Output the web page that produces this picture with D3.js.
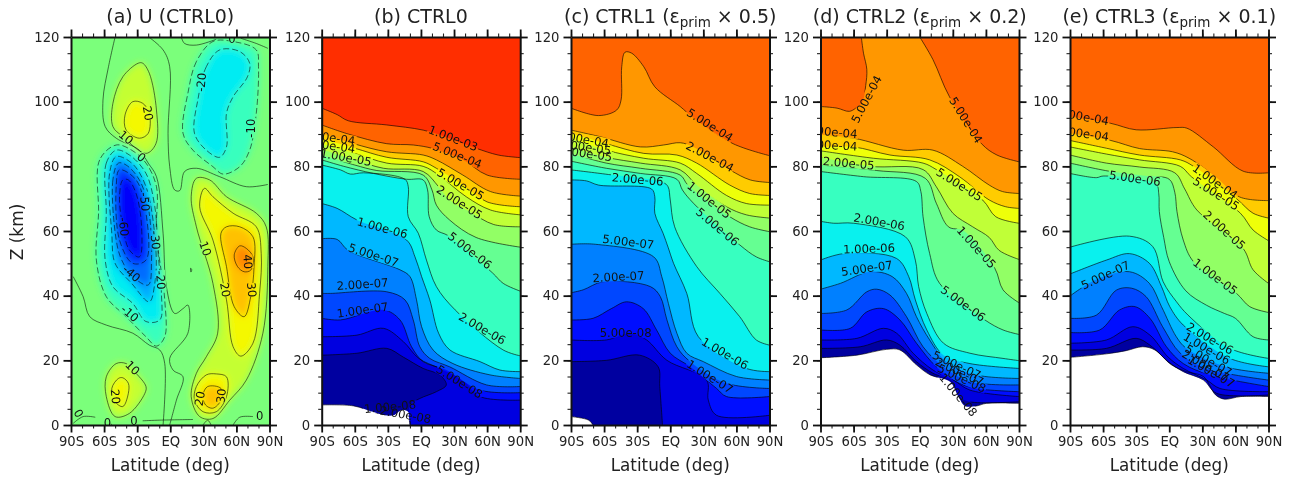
<!DOCTYPE html>
<html>
<head>
<meta charset="utf-8">
<script src="https://cdn.jsdelivr.net/npm/d3@7"></script>
<style>
  html, body { margin: 0; background: #fff; }
  text { font-family: "DejaVu Sans", sans-serif; }
  svg { filter: blur(0.4px); }
</style>
</head>
<body>
<script>
// Zonal-mean panels: wind (a) and log-level contours (b-e). Values as [lat, km].

const latTicks = [-90, -60, -30, 0, 30, 60, 90];
const latTickLabels = ["90S", "60S", "30S", "EQ", "30N", "60N", "90N"];
const zTicks = [0, 20, 40, 60, 80, 100, 120];
const logLevels = ["1.00e-08", "2.00e-08", "5.00e-08", "1.00e-07", "2.00e-07", "5.00e-07", "1.00e-06", "2.00e-06", "5.00e-06",
  "1.00e-05", "2.00e-05", "5.00e-05", "1.00e-04", "2.00e-04", "5.00e-04", "1.00e-03", "2.00e-03", "5.00e-03", "1.00e-02"];

// panel (a): wind contours, closed blobs then open zero lines
const windBlobs = [
  [-10, [[-49,86.6],[-64,82],[-65,65.5],[-67,51],[-58,39.7],[-40,33.5],[-22,27.3],[-12.5,24.4],[-5,27.3],[-5,38.7],[-12.5,59.3],[-12.5,73.7],[-22,81],[-35,85]]],
  [-20, [[-49,85],[-58,81],[-58,65.5],[-59,51],[-52,42.8],[-34,37.6],[-22,32],[-9.5,32.5],[-8,40.7],[-11,53],[-14,67.5],[-22,77.8],[-37,83.5]]],
  [-30, [[-49,83],[-55,77.8],[-53,59.3],[-50,50],[-35,43.8],[-19,38.1],[-14,43.8],[-13,54.1],[-22,73.7],[-35,81]]],
  [-40, [[-47,81],[-52,75.8],[-49,57.2],[-44,51],[-34,45.9],[-20,43.3],[-17,51],[-20,67.5],[-28,75.8],[-40,80.4]]],
  [-50, [[-46,78.9],[-49,73.7],[-46,57.2],[-34,50],[-22,51],[-22,65.5],[-31,75.8]]],
  [-60, [[-43,75.8],[-46,70.6],[-43,61.3],[-37,54.1],[-28,52],[-26,61.3],[-31,71.6],[-38,75.8]]],
  [-10, [[38.7,118.6],[23.7,112.4],[16,102.6],[11.6,90.2],[20.6,85],[38.7,79.9],[48,77.6],[63,79.9],[72,85],[78,96.4],[80,110.8],[78,116],[57,118.6]]],
  [-20, [[44.8,116],[32.7,110.8],[25,100.5],[22,90.2],[32.7,85],[44.8,82.8],[51,86],[51,96.4],[57,101.5],[70,107.7],[72,111.9],[63,115.5]]],
  [10, [[-29,111.9],[-43,107.7],[-52,99.5],[-52,92.3],[-43,89.2],[-22,84],[-13,87],[-12.5,97.4],[-19,108.8],[-25,111.9]]],
  [20, [[-34,100],[-41,95.9],[-40,91.2],[-28,88.7],[-20,90.2],[-19,96.4],[-25,99.5]]],
  [10, [[23.7,76.3],[19,70.6],[23.7,61.3],[38.7,43.8],[43,28.4],[32.7,21.1],[23.7,16],[19,8.8],[26.7,2.6],[38.7,2],[54,7.7],[69,13.9],[84,28.4],[88.5,49],[87,61.3],[78,65.5],[51,70.6],[35.7,75.8]]],
  [20, [[31,73.2],[26.7,67.5],[38.7,57.2],[51,38.7],[57,24.2],[64,21.3],[75,25.3],[81,40.7],[82.5,53],[78,61.3],[57,65.5],[38.7,70.6]]],
  [30, [[46,59.3],[51,49],[58,36.6],[67,33.5],[73,39.7],[76,49],[75,58.2],[63,61.3],[51,61.3]]],
  [40, [[63,55.4],[58,52.6],[61,49],[67,47.4],[73,47.9],[75,52],[69,54.6]]],
  [20, [[32.7,15.5],[23.7,11.9],[22,7.7],[29.7,4.1],[41.7,4.1],[51,8.8],[51,14.9],[41.7,15.8]]],
  [30, [[34,11.9],[29.7,9.3],[32,6.2],[38.7,5.2],[46,7.7],[46,11.3]]],
  [10, [[-49,19],[-58,14.9],[-58,8.8],[-50,2.6],[-37,3.6],[-23,9.8],[-22,11.9],[-31,16],[-40,19]]],
  [20, [[-47,14.4],[-53,11.3],[-50,7.2],[-43,5.7],[-38,9.8],[-38,12.9],[-43,14.6]]],
  [0, [[18.5,48.5],[19.5,48],[18.7,47.3]]]
];
const windZeroLines = [
  [[-50,120],[-56,110.8],[-61,100.5],[-59,92.3],[-49,88.7],[-28,85],[-20,81],[-12.5,76.8],[-6.5,59.3],[-3.5,42.8],[4,34.5],[11.6,36],[16,37.1],[16,28.4],[-0.5,20.6],[2.5,17],[11.6,14.9],[5.6,7.7],[-0.5,0]],
  [[-88,45.9],[-79,39.7],[-73,33.5],[-58,30.9],[-34,28.4],[-19,24.7],[-9.5,23.2],[-5,19],[-6.5,0]],
  [[-19.5,120],[-6.5,116],[-0.5,110.8],[-2,90.2],[-0.5,79.9],[4,72.7],[8.6,72.5],[13,78.4],[23.7,79.4],[44.8,76.8],[69,73.7],[88.5,74.4]],
  [[10,120],[13,118],[23.7,117.5],[41.7,119.3]],
  [[64,119.6],[78,118],[88.5,116.5]],
  [[-25,1.3],[-9.5,1.5],[20.6,1.7]],
  [[-88,0.5],[-79,2.6],[-68,2.4]],
  [[-59,0],[-56,1],[-53,0]],
  [[-35,0],[-33,2],[-31,0]],
  [[29.7,0],[34,1.5],[37,0]],
  [[57,0],[63,2.4],[75,2.6]]
];
const windLabels = [
  ["20",-20,96.4,80],["10",-40,89,40],["0",-26,82.8,40],["-50",-23,69,85],["-60",-42,61.3,85],["-30",-13.4,57.2,85],
  ["-40",-35,46.9,40],["-20",-8.6,44.8,85],["-10",-36.6,34.5,40],["10",-34,17.7,45],["20",-49.6,8.8,85],["0",-83,3.6,60],
  ["0",-57,0.7,0],["0",-33,1.2,0],["-20",28,106,-85],["-10",73.4,91.8,-90],["10",32,54.6,70],["20",50,41.8,80],
  ["30",74,41.8,85],["40",70.5,50.5,85],["20",26.7,8.2,-80],["30",46,9,-85],["0",81,2.8,0],["0",56,119.3,0]
];

// panel (b) CTRL0
const ctrl0Contours = [
  ["1.00e-08", [[-90,6.2],[-61,5.9],[-43,4],[-32.6,3],[-25,3],[-17.5,4.6],[-11.5,4],[-9.5,0]]],
  ["2.00e-08", [[-90,21.6],[-58,22.2],[-31,23.7],[-16,21],[2,17.5],[17,15.5],[23,12.4],[14,10.3],[-1,8.2],[-10,6.2],[-10,0]]],
  ["5.00e-08", [[-90,27.3],[-58,27.8],[-34,29.9],[-16,25.8],[-2,20.6],[17,17.5],[38,13.9],[53.5,8.8],[90,7.7]]],
  ["1.00e-07", [[-90,33],[-73,32.5],[-34,35.6],[-19,32.5],[-8.5,24.2],[2,19.6],[23,17],[53.5,10.8],[90,10]]],
  ["2.00e-07", [[-90,40.7],[-82,40.7],[-31,41.2],[-14.5,38.7],[-7,32.5],[-1,24.2],[8,20.6],[26,18],[59.5,12.4],[90,11.9]]],
  ["5.00e-07", [[-90,57.6],[-76,57.4],[-66,54],[-19,48],[-10,45.9],[-4,38.7],[0.6,30.4],[11,23.2],[29,19],[62.6,15.5],[90,14.4]]],
  ["1.00e-06", [[-90,68.5],[-76,67],[-58,63.4],[-13,57.2],[-5.4,52],[0.6,45.9],[8,38.7],[16,28.4],[26.3,23.2],[53.5,19.6],[71.6,17],[90,16.5]]],
  ["2.00e-06", [[-90,80.4],[-73,78.9],[-64,77.6],[-52,78],[-14.5,76],[-11.5,73.7],[-11.5,64.4],[-2.4,59.3],[5,51],[14,42.8],[31,35.6],[74.6,23.2],[90,21.4]]],
  ["5.00e-06", [[-90,82],[-70,80],[-43,77.8],[-13,76],[2,75.8],[6,72.7],[7.5,64.4],[14,60.3],[25,58.5],[65,47],[74.6,43.8],[90,41.4]]],
  ["1.00e-05", [[-90,83.5],[-60,80.4],[-40,78.7],[2,77.3],[10,72.7],[14,68],[26,63.4],[50,58],[90,55]]],
  ["2.00e-05", [[-90,85.3],[-60,82],[-34,79.4],[2,78.4],[16,73.7],[26,69.6],[44,66],[66,62],[90,61.3]]],
  ["5.00e-05", [[-90,87],[-60,84],[-31,81],[2,80],[16,77.3],[41,70.6],[63,66.5],[90,65]]],
  ["1.00e-04", [[-90,88.5],[-60,85.6],[-31,82.8],[2,81.4],[14,79.4],[38,74.2],[60,69],[90,67.5]]],
  ["2.00e-04", [[-90,90.2],[-61,87],[-31,84.5],[2,83.5],[14,82],[38,77.3],[63,72.2],[90,70.8]]],
  ["5.00e-04", [[-90,92.8],[-66,90],[-31,87],[-7,86.6],[11,85.5],[38,82],[60,77.3],[90,76]]],
  ["1.00e-03", [[-90,98],[-76,96],[-66,94.1],[-31,92.8],[2,91.2],[23,89],[50,85.6],[70,83.5],[90,82.7]]]
];
const ctrl0Labels = [
  ["1.00e-03",29.3,88.7,21],["5.00e-04",33,83.5,22],["5.00e-05",36,74.5,30],["2.00e-05",35,68.9,33],["5.00e-06",44.4,54,38],
  ["2.00e-06",55.6,29.9,30],["1.00e-06",-35,61,15],["5.00e-07",-43,52.6,18],["2.00e-07",-53,43.6,-4],["1.00e-07",-53,35.6,-8],
  ["5.00e-08",35,13.4,32],["1.00e-08",-28,5.7,-5],["2.00e-08",-14,3.2,10],["2.00e-04",-83,89,8],["1.00e-04",-83,86.5,8],["1.00e-05",-68,82.8,10]
];

// panel (c) CTRL1
const ctrl1Contours = [
  ["1.00e-08", [[-90,2.6],[-74,1.5],[-70,0]]],
  ["2.00e-08", [[-90,19.6],[-58,20],[-27.7,21.6],[-11,18],[-9.5,11.9],[-7,0]]],
  ["5.00e-08", [[-90,26.3],[-58,26.3],[-36,28.4],[-21.4,26.3],[-3,20],[33,13.9],[34.5,7.7],[42,3],[90,3]]],
  ["1.00e-07", [[-90,32.5],[-70,33],[-53.4,36],[-39.6,38.1],[-24.5,36],[-12.4,29.4],[0,22.2],[18,18],[42,11.3],[51,8.8],[90,8.8]]],
  ["2.00e-07", [[-90,40.9],[-79,41.8],[-61,44.3],[-18,42.8],[-9,39.7],[-3,32.5],[6,24.2],[18,19.6],[51,12.9],[90,11.3]]],
  ["5.00e-07", [[-90,55.9],[-68,55.9],[-15,52],[-7.7,45.9],[-1.7,37.6],[6,28.4],[15,22.2],[30,19.6],[60,15],[90,13.9]]],
  ["1.00e-06", [[-90,75.8],[-76,75.5],[-65,74.2],[-17,73],[-14,70.6],[-14,65.5],[-6.5,59.3],[-2,55],[3,50],[15,40.7],[25.5,27.3],[69,17.5],[90,16.5]]],
  ["2.00e-06", [[-90,78.9],[-59,77.6],[-6.5,75],[-2,73.7],[0,69.6],[4,61.3],[24,49],[45,40.7],[63,33.5],[78,26.3],[90,24.7]]],
  ["5.00e-06", [[-90,81.6],[-58,79.4],[-27,77.8],[6,76],[11,72.7],[21,68.6],[63,55.7],[78,52],[90,50.5]]],
  ["1.00e-05", [[-90,84],[-58,81],[-27,79.4],[9,77.3],[16,74.2],[54,64.4],[72,61.3],[90,59.8]]],
  ["2.00e-05", [[-90,86],[-58,82.8],[-27,81],[9,78.9],[24,74.2],[51,67.5],[69,65],[90,64]]],
  ["5.00e-05", [[-90,88.7],[-58,85],[-24,82.5],[9,81],[24,77.8],[51,71],[69,68.5],[90,68]]],
  ["1.00e-04", [[-90,90.2],[-58,87],[-24,84],[6,83.5],[24,81],[54,74.2],[72,71.6],[90,71]]],
  ["2.00e-04", [[-90,91.2],[-64,89.2],[-27,86],[-6,86.6],[9,87.3],[21,86],[54,78.9],[72.5,75.8],[90,75]]],
  ["5.00e-04", [[-90,98],[-65,95.7],[-48.6,97.4],[-44.6,100.5],[-44,110.8],[-41,115.3],[-35,115],[-24,110.8],[-14,104.6],[9,98.5],[21,95],[57,87],[90,83.3]]]
];
const ctrl1Labels = [
  ["5.00e-04",36,92.8,32],["2.00e-04",36,83,28],["1.00e-05",35.4,69.6,38],["5.00e-06",43,61.3,40],["1.00e-06",49.6,22.2,30],
  ["1.00e-07",36,15,32],["2.00e-06",-29.6,76,5],["5.00e-07",-38,56.7,7],["2.00e-07",-47,45.9,-3],["5.00e-08",-40.5,28.4,0],
  ["2.00e-04",-79,88.5,10],["5.00e-05",-77,86,8],["2.00e-05",-76,84,8]
];

// panel (d) CTRL2
const ctrl2Contours = [
  ["1.00e-08", [[-90,20.8],[-57,21.6],[-30,23.4],[-18,23.2],[-3,18.6],[9.4,15.5],[27.5,13.4],[35,8.8],[41,5.9],[51.5,5.9],[60.5,6.7],[90,6.7]]],
  ["2.00e-08", [[-90,23.7],[-54,24.2],[-30,26.3],[-18,24.7],[-3,19.6],[12,16],[30,13.4],[36,8.8],[45,7.2],[90,7.2]]],
  ["5.00e-08", [[-90,26.3],[-57,26.8],[-33,29.9],[-21,28.4],[-6,22.2],[12,17],[30.5,13.9],[45.5,10.8],[90,8.8]]],
  ["1.00e-07", [[-90,29.4],[-63,29.9],[-48,35],[-33,36],[-18,32.5],[-3,25.3],[15,18],[36,12.9],[51,11.3],[90,10.3]]],
  ["2.00e-07", [[-90,34.5],[-66,35.6],[-48,41.2],[-39,42],[-27,40.2],[-12,33.5],[3,24.2],[21.5,18],[45.5,13.4],[90,12.4]]],
  ["5.00e-07", [[-90,42],[-72,43.8],[-45,47.4],[-25,45.9],[-12,40.7],[-3,33.5],[9,26.3],[24,19.6],[51,15.5],[90,14.4]]],
  ["1.00e-06", [[-90,51],[-69,53],[-21,51.5],[-10,45.9],[-4,38.7],[6.4,29.4],[21.5,21.6],[45.5,19],[90,17.5]]],
  ["2.00e-06", [[-90,63],[-78,62.4],[-60,62.4],[-13,58.2],[-4,51],[-1,42.8],[6.4,34.5],[21.5,25.3],[45.5,22.2],[75.5,20.6],[90,19.9]]],
  ["5.00e-06", [[-90,78.4],[-51,76.8],[-3,75.3],[1,72.2],[3,64.4],[9,53],[18,43.8],[59,32.5],[75.5,29.4],[90,28]]],
  ["1.00e-05", [[-90,80.4],[-39,78.7],[5,76.3],[15,68.6],[26,61.3],[40,60],[68,48.5],[75.5,41.8],[90,37.8]]],
  ["2.00e-05", [[-90,82.8],[-45,80],[3,79],[15,73.7],[30,65.5],[48,61.3],[63,58],[72,54],[90,51.2]]],
  ["5.00e-05", [[-90,84.8],[-42,82.5],[3,81],[15,79],[57,69.6],[69,64.4],[90,62.4]]],
  ["1.00e-04", [[-90,86],[-60,86],[-27,83.5],[9,82],[36,76.8],[63,69.6],[78,67.5],[90,67]]],
  ["2.00e-04", [[-90,89.7],[-60,88.7],[-15,85],[12,85],[39,80],[63,74.2],[75,72.2],[90,71.6]]],
  ["5.00e-04", [[-90,98.5],[-75,98],[-64,97],[-58,98],[-52,100],[-49,105],[-48,110],[-51,115],[-53,120]]],
  ["5.00e-04", [[0,120],[12,113],[27,101.5],[56,87],[70,83.5],[90,81.4]]]
];
const ctrl2Labels = [
  ["5.00e-04",-48.4,100.8,-62],["5.00e-04",42,94.3,58],["5.00e-05",36,74.4,32],["1.00e-05",51.5,55,48],["5.00e-06",39.5,37.6,36],
  ["2.00e-06",-36.7,62.9,10],["1.00e-06",-46,54.6,-2],["5.00e-07",-48,48.5,-8],["2.00e-05",-64.4,81,5],["2.00e-04",-80,90.7,5],
  ["1.00e-04",-80,86.6,3],["5.00e-07",33.5,18.6,25],["2.00e-07",36,16.5,25],["5.00e-08",38,14.5,25],["1.00e-08",35,9.3,50]
];

// panel (e) CTRL3
const ctrl3Contours = [
  ["1.00e-08", [[-90,20.9],[-57,22],[-39,23],[-24,24.2],[-13,23.2],[2,18.6],[15.5,16.5],[31,15],[42,9.3],[50,8],[65,8.8],[90,8.8]]],
  ["2.00e-08", [[-90,23.2],[-57,23.7],[-30,26.8],[-17.5,24.7],[-1,19.6],[12.7,16.5],[31,13.9],[43,9.8],[90,9.3]]],
  ["5.00e-08", [[-90,25.3],[-57,26.3],[-33,30.4],[-17.5,27.8],[-1,21],[12.7,17.5],[34,13.9],[46,11.3],[90,10.3]]],
  ["1.00e-07", [[-90,28.6],[-63,29.4],[-45,35.6],[-31,36.6],[-17.5,33],[-2.5,24.2],[12.7,19],[37,15.5],[90,11.9]]],
  ["2.00e-07", [[-90,33],[-66,34],[-48,41.7],[-34,42.3],[-21,39.7],[-6,30.4],[10,22.2],[34,17.5],[90,13.9]]],
  ["5.00e-07", [[-90,39.9],[-66,45],[-36,47.4],[-18,43.8],[-7,36.6],[6.4,27.3],[15.5,23.7],[51,18],[90,16]]],
  ["1.00e-06", [[-90,46.7],[-57,51],[-36,53],[-18,50],[-7,42.8],[0.5,36.6],[12.7,30.9],[55,20.6],[90,18]]],
  ["2.00e-06", [[-90,55],[-36,58.4],[-15,55.2],[-5.5,44.3],[6.6,38.1],[17,34],[55,23.7],[90,20.6]]],
  ["5.00e-06", [[-90,77.8],[-66,76.5],[-60,77],[-12,74.5],[-9.5,71.5],[-9,66],[-5,58],[0,50.5],[15,41.5],[34,37],[50,34.5],[60,33],[76,27.3],[90,26.3]]],
  ["1.00e-05", [[-90,81],[-53,78.4],[-20,77],[0,76],[5,72],[7,66],[12.7,57.2],[22,50.5],[61,40.7],[73,36.6],[90,34.8]]],
  ["2.00e-05", [[-90,83.5],[-57,81],[-27,79.8],[5,78],[14,73],[25,66.5],[67,54.6],[76,48],[90,43.8]]],
  ["5.00e-05", [[-90,86],[-57,83.8],[-27,82],[10,80],[20,76.8],[64.5,65.5],[76,60.3],[90,57]]],
  ["1.00e-04", [[-90,88],[-57,85.6],[-27,83.5],[10,82],[22,80],[61,70],[76,65.5],[90,64]]],
  ["2.00e-04", [[-90,90.2],[-53,88],[-27,85.5],[3,84.5],[18,82.5],[43,76.5],[64,70.5],[90,69.4]]],
  ["5.00e-04", [[-90,95.4],[-53,93.3],[-30,91.3],[7,92],[16,91.8],[40,86],[67,78.5],[90,78]]]
];
const ctrl3Labels = [
  ["5.00e-04",-78,95.4,10],["2.00e-04",-78,90.2,8],["1.00e-04",41.7,75.3,35],["5.00e-05",42.6,71.6,32],["2.00e-05",50,60.3,42],
  ["1.00e-05",41.8,45.9,37],["5.00e-06",-31,76.3,8],["5.00e-07",-58,46.4,-25],["2.00e-06",37,26.8,30],["1.00e-06",34,23.7,30],
  ["5.00e-07",35.7,20,30],["2.00e-07",33,18.4,30],["1.00e-07",38,16.5,30]
];

const panelLefts = [71, 321.7, 571, 820.5, 1070];
const plotW = 198.5;
const plotTop = 37;
const plotH = 388;
const svg = d3.select("body").append("svg").attr("width", 1297).attr("height", 480).style("display", "block");
const defs = svg.append("defs");
defs.append("filter").attr("id", "soft").attr("x", "-10%").attr("y", "-10%").attr("width", "120%").attr("height", "120%")
  .append("feGaussianBlur").attr("stdDeviation", 3.8);

// jet, same knots as matplotlib
const jetR = d3.scaleLinear().domain([0, 0.35, 0.66, 0.89, 1]).range([0, 0, 1, 1, 0.5]).clamp(true);
const jetG = d3.scaleLinear().domain([0, 0.125, 0.375, 0.64, 0.91, 1]).range([0, 0, 1, 1, 0, 0]).clamp(true);
const jetB = d3.scaleLinear().domain([0, 0.11, 0.34, 0.65, 1]).range([0.5, 1, 1, 0, 0]).clamp(true);
const jet = (t) => d3.rgb(jetR(t) * 255, jetG(t) * 255, jetB(t) * 255).formatRgb();
const windColor = d3.scaleLinear().domain([-80, 0, 85]).range([0, 0.5, 1]);

function drawPanel(i, drawMarks, labels, title) {
  const left = panelLefts[i];
  const x = d3.scaleLinear().domain([-90, 90]).range([0, plotW]);
  const y = d3.scaleLinear().domain([0, 120]).range([plotH, 0]);
  const g = svg.append("g").attr("transform", `translate(${left},${plotTop})`);
  const id = "p" + i;

  defs.append("clipPath").attr("id", id + "clip").append("rect").attr("width", plotW).attr("height", plotH);

  const labelSize = 11.6;
  const labelXY = (d) => `translate(${x(d[1])},${y(d[2])}) rotate(${d[3]})`;

  // the lines break under their labels, like clabel does
  const mask = defs.append("mask").attr("id", id + "mask").attr("maskUnits", "userSpaceOnUse")
    .attr("x", -5).attr("y", -5).attr("width", plotW + 10).attr("height", plotH + 10);
  mask.append("rect").attr("x", -5).attr("y", -5).attr("width", plotW + 10).attr("height", plotH + 10).attr("fill", "#fff");
  mask.selectAll("rect.gap").data(labels).enter().append("rect").attr("class", "gap")
    .attr("x", (d) => -d[0].length * labelSize * 0.29)
    .attr("y", -5)
    .attr("width", (d) => d[0].length * labelSize * 0.58)
    .attr("height", 10)
    .attr("transform", labelXY)
    .attr("fill", "#000");

  const plot = g.append("g").attr("clip-path", `url(#${id}clip)`);
  drawMarks(plot, x, y, `url(#${id}mask)`);

  plot.selectAll("text.clabel").data(labels).enter().append("text")
    .attr("class", "clabel")
    .attr("transform", labelXY)
    .attr("text-anchor", "middle")
    .attr("dy", "0.36em")
    .attr("font-size", labelSize)
    .attr("fill", "#111")
    .text((d) => d[0]);

  // four spines, majors outward, minors shorter
  const axes = [
    [d3.axisBottom(x), `translate(0,${plotH})`, true, d3.range(-90, 91, 10), latTicks],
    [d3.axisTop(x), "", false, d3.range(-90, 91, 10), latTicks],
    [d3.axisLeft(y), "", true, d3.range(0, 121, 5), zTicks],
    [d3.axisRight(y), `translate(${plotW},0)`, false, d3.range(0, 121, 5), zTicks]
  ];
  axes.forEach(([axis, tf, labelled, minor, major], k) => {
    g.append("g").attr("transform", tf)
      .call(axis.tickValues(minor).tickSize(3.5).tickSizeOuter(0).tickFormat(""))
      .call((s) => s.select(".domain").remove())
      .call((s) => s.selectAll("line").attr("stroke", "#222").attr("stroke-width", 1.1));
    const fmt = !labelled ? () => "" : k === 0 ? (d) => latTickLabels[latTicks.indexOf(d)] : (d) => d;
    const majorG = g.append("g").attr("transform", tf)
      .call(axis.tickValues(major).tickSize(7.5).tickSizeOuter(0).tickPadding(4).tickFormat(fmt));
    majorG.select(".domain").attr("stroke", "#111").attr("stroke-width", 2);
    majorG.selectAll("line").attr("stroke", "#111").attr("stroke-width", 1.8);
    majorG.selectAll("text").attr("font-family", "DejaVu Sans").attr("font-size", 13.2).attr("fill", "#222");
  });

  g.append("text").attr("x", plotW / 2).attr("y", plotH + 46).attr("text-anchor", "middle")
    .attr("font-size", 16.8).attr("fill", "#222").text("Latitude (deg)");

  const t = g.append("text").attr("x", plotW / 2).attr("y", -14.5).attr("text-anchor", "middle")
    .attr("font-size", 19).attr("fill", "#222");
  t.append("tspan").text(title[0]);
  if (title[1]) {
    t.append("tspan").attr("dy", 4).attr("font-size", 13.5).text(title[1]);
    t.append("tspan").attr("dy", -4).text(title[2]);
  }
  return g;
}

function windMarks(plot, x, y, maskUrl) {
  const closed = d3.line().x((d) => x(d[0])).y((d) => y(d[1])).curve(d3.curveCatmullRomClosed.alpha(0.5));
  const open = d3.line().x((d) => x(d[0])).y((d) => y(d[1])).curve(d3.curveCatmullRom.alpha(0.5));

  plot.append("rect").attr("width", plotW).attr("height", plotH).attr("fill", jet(windColor(0)));

  const order = windBlobs.slice().sort((a, b) => Math.abs(a[0]) - Math.abs(b[0]));
  plot.append("g").attr("filter", "url(#soft)")
    .selectAll("path").data(order.filter((d) => d[0] !== 0)).enter().append("path")
    .attr("d", (d) => closed(d[1]))
    .attr("fill", (d) => jet(windColor(d[0] + (d[0] > 0 ? 5 : -3))));

  const lines = plot.append("g").attr("mask", maskUrl).attr("fill", "none").attr("stroke", "#000").attr("stroke-opacity", 0.65).attr("stroke-width", 0.85);
  lines.selectAll("path.blob").data(windBlobs).enter().append("path").attr("class", "blob")
    .attr("d", (d) => closed(d[1]))
    .attr("stroke-dasharray", (d) => (d[0] < 0 ? "6 3" : null));
  lines.selectAll("path.zero").data(windZeroLines).enter().append("path").attr("class", "zero").attr("d", (d) => open(d));
}

function logMarks(contours) {
  return function (plot, x, y, maskUrl) {
    const open = d3.line().x((d) => x(d[0])).y((d) => y(d[1])).curve(d3.curveCatmullRom.alpha(0.5));
    // fill everything on the high side of each contour, lowest level first; what stays uncovered is white
    const region = (pts) => {
      const first = pts[0];
      const last = pts[pts.length - 1];
      const tail = [];
      if (last[1] === 0) tail.push([90, 0]);
      if (last[0] === 90 || last[1] === 0) tail.push([90, 120]);
      if (first[0] === -90) tail.push([-90, 120]);
      return open(pts) + tail.map((p) => `L${x(p[0])},${y(p[1])}`).join("") + "Z";
    };
    const bandColor = (level) => jet((logLevels.indexOf(level) + 0.5) / (logLevels.length - 1));

    plot.selectAll("path.band").data(contours).enter().append("path").attr("class", "band")
      .attr("d", (d) => region(d[1]))
      .attr("fill", (d) => bandColor(d[0]));
    plot.append("g").attr("mask", maskUrl).selectAll("path.line").data(contours).enter().append("path").attr("class", "line")
      .attr("d", (d) => open(d[1]))
      .attr("fill", "none").attr("stroke", "#000").attr("stroke-opacity", 0.72).attr("stroke-width", 0.85);
  };
}

drawPanel(0, windMarks, windLabels, ["(a) U (CTRL0)"]);
drawPanel(1, logMarks(ctrl0Contours), ctrl0Labels, ["(b) CTRL0"]);
drawPanel(2, logMarks(ctrl1Contours), ctrl1Labels, ["(c) CTRL1 (ε", "prim", " × 0.5)"]);
drawPanel(3, logMarks(ctrl2Contours), ctrl2Labels, ["(d) CTRL2 (ε", "prim", " × 0.2)"]);
drawPanel(4, logMarks(ctrl3Contours), ctrl3Labels, ["(e) CTRL3 (ε", "prim", " × 0.1)"]);

svg.append("text").attr("transform", "translate(23,232) rotate(-90)").attr("text-anchor", "middle")
  .attr("font-size", 17).attr("fill", "#222").text("Z (km)");
</script>
</body>
</html>
